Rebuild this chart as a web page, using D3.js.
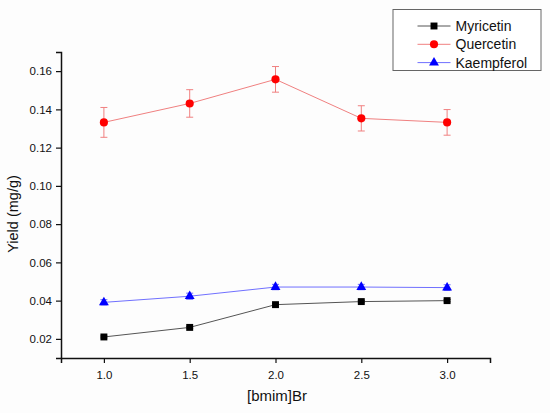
<!DOCTYPE html>
<html>
<head>
<meta charset="utf-8">
<script src="https://cdn.jsdelivr.net/npm/d3@7"></script>
<style>
  body { margin: 0; background: #fdfdfd; }
  text { font-family: Arial, "Liberation Sans", sans-serif; fill: #111; }
</style>
</head>
<body>
<div class="canvas"></div>
<script>
// data
const concentrations = [1.0, 1.5, 2.0, 2.5, 3.0];
const myricetin = [0.0210, 0.0260, 0.0379, 0.0395, 0.0400];
const myricetinErr = [0.0005, 0.0005, 0.0006, 0.0006, 0.0006];
const quercetin = [0.1332, 0.1431, 0.1557, 0.1353, 0.1332];
const quercetinErr = [0.0078, 0.0072, 0.0067, 0.0066, 0.0067];
const kaempferol = [0.0391, 0.0423, 0.0471, 0.0471, 0.0468];
const kaempferolErr = [0.0014, 0.0016, 0.0014, 0.0014, 0.0015];
const xTicks = [1.0, 1.5, 2.0, 2.5, 3.0];
const yTicks = [0.02, 0.04, 0.06, 0.08, 0.10, 0.12, 0.14, 0.16];

const series = [
  { name: 'Myricetin', values: myricetin, err: myricetinErr, line: '#555', fill: '#000', symbol: d3.symbolSquare, size: 48 },
  { name: 'Quercetin', values: quercetin, err: quercetinErr, line: '#f08080', fill: '#ff0000', symbol: d3.symbolCircle, size: 52 },
  { name: 'Kaempferol', values: kaempferol, err: kaempferolErr, line: '#7070ff', fill: '#0000ff', symbol: d3.symbolTriangle, size: 42 }
];

const svg = d3.select('.canvas')
  .append('svg')
  .attr('width', 550)
  .attr('height', 413);

const margin = { top: 52, right: 60, bottom: 55, left: 61 };
const graphWidth = 550 - margin.left - margin.right;
const graphHeight = 413 - margin.top - margin.bottom;

const graph = svg.append('g')
  .attr('transform', `translate(${margin.left}, ${margin.top})`);

// scales
const x = d3.scaleLinear()
  .domain([0.75, 3.25])
  .range([0, graphWidth]);

const y = d3.scaleLinear()
  .domain([0.01, 0.17])
  .range([graphHeight, 0]);

// axes (major + minor ticks)
const xAxisGroup = graph.append('g')
  .attr('transform', `translate(0, ${graphHeight})`);
xAxisGroup.call(d3.axisBottom(x).tickValues(d3.range(0.75, 3.3, 0.5)).tickSize(3).tickFormat(''));
xAxisGroup.call(d3.axisBottom(x).tickValues(xTicks).tickSize(5).tickPadding(8).tickFormat(d3.format('.1f')));

const yAxisGroup = graph.append('g');
yAxisGroup.call(d3.axisLeft(y).tickValues(d3.range(0.01, 0.175, 0.02)).tickSize(3).tickFormat(''));
yAxisGroup.call(d3.axisLeft(y).tickValues(yTicks).tickSize(5).tickPadding(4).tickFormat(d3.format('.2f')));

svg.selectAll('.domain').attr('stroke', '#111').attr('stroke-width', 1.5);
svg.selectAll('.tick line').attr('stroke', '#111').attr('stroke-width', 1.2);
svg.selectAll('.tick text').attr('font-size', 11.5).attr('fill', '#111');

// axis titles
svg.append('text')
  .attr('x', 277)
  .attr('y', 401)
  .attr('text-anchor', 'middle')
  .attr('font-size', 15)
  .text('[bmim]Br');

svg.append('text')
  .attr('transform', 'translate(18, 214) rotate(-90)')
  .attr('text-anchor', 'middle')
  .attr('font-size', 14.5)
  .text('Yield (mg/g)');

// lines, error bars, markers
const line = d3.line()
  .x((d, i) => x(concentrations[i]))
  .y(d => y(d));

series.forEach(s => {
  const g = graph.append('g');

  g.append('path')
    .attr('d', line(s.values))
    .attr('fill', 'none')
    .attr('stroke', s.line)
    .attr('stroke-width', 1);

  const bars = g.selectAll('.err').data(s.values).enter().append('g');
  bars.append('line')
    .attr('x1', (d, i) => x(concentrations[i]))
    .attr('x2', (d, i) => x(concentrations[i]))
    .attr('y1', (d, i) => y(d + s.err[i]))
    .attr('y2', (d, i) => y(d - s.err[i]))
    .attr('stroke', s.line);
  [1, -1].forEach(sign => {
    bars.append('line')
      .attr('x1', (d, i) => x(concentrations[i]) - 3.5)
      .attr('x2', (d, i) => x(concentrations[i]) + 3.5)
      .attr('y1', (d, i) => y(d + sign * s.err[i]))
      .attr('y2', (d, i) => y(d + sign * s.err[i]))
      .attr('stroke', s.line);
  });

  g.selectAll('.marker').data(s.values).enter()
    .append('path')
    .attr('d', d3.symbol().type(s.symbol).size(s.size))
    .attr('transform', (d, i) => `translate(${x(concentrations[i])}, ${y(d)})`)
    .attr('fill', s.fill);
});

// legend
const legend = svg.append('g').attr('transform', 'translate(393, 9.5)');
legend.append('rect')
  .attr('width', 148)
  .attr('height', 61)
  .attr('fill', '#fff')
  .attr('stroke', '#666')
  .attr('stroke-width', 1);

series.forEach((s, i) => {
  const row = legend.append('g').attr('transform', `translate(0, ${16.5 + i * 18.3})`);
  row.append('line')
    .attr('x1', 24.5).attr('x2', 57.5)
    .attr('stroke', s.line);
  row.append('path')
    .attr('d', d3.symbol().type(s.symbol).size(s.size))
    .attr('transform', 'translate(41, 0)')
    .attr('fill', s.fill);
  row.append('text')
    .attr('x', 62.5)
    .attr('dy', '0.36em')
    .attr('font-size', 14)
    .text(s.name);
});
</script>
</body>
</html>
